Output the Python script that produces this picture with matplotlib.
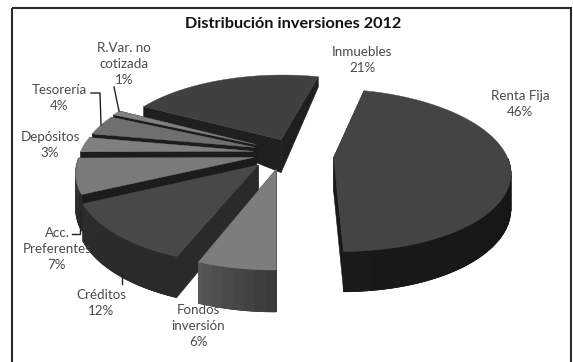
import numpy as np
import matplotlib
matplotlib.use('Agg')
import matplotlib.pyplot as plt
from matplotlib.colors import to_rgb
from matplotlib.patches import Rectangle

# Investment shares, clockwise from the first slice
categories = ['Renta Fija', 'Fondos\ninversión', 'Créditos', 'Acc.\nPreferentes',
              'Depósitos', 'Tesorería', 'R.Var. no\ncotizada', 'Inmuebles']
values = [46, 6, 12, 7, 3, 4, 1, 21]

# Slice styling, same order as categories
top_colors = ['#444444', '#7d7d7d', '#484848', '#7a7a7a', '#7f7f7f', '#6f6f6f', '#808080', '#404040']
wall_left = ['#1a1a1a', '#585858', '#2c2c2c', '#333333', '#222222', '#222222', '#222222', '#2b2b2b']
wall_right = ['#151515', '#3a3a3a', '#2a2a2a', '#2a2a2a', '#1e1e1e', '#1e1e1e', '#1e1e1e', '#2b2b2b']
cut_colors = ['#1a1a1a', '#333333', '#2a2a2a', '#1c1c1c', '#1c1c1c', '#1c1c1c', '#1c1c1c', '#1f1f1f']
explode = [0.27, 0.24, 0.27, 0.25, 0.25, 0.24, 0.24, 0.19]
nudge = [(-4, 2), (-7, -3), (0, -4), (5, 0), (5, 0), (3, 0), (2, 0), (3, 0)]
rim_drop = [1, 1, 1, 1, 1, 1, 1, 0.36]
label_xy = [(520, 104), (198, 326), (101, 303), (57, 249), (50, 145), (59, 98), (124, 64), (362, 60)]

# Pie geometry in pixels, with a simple perspective term
cx, cy = 291, 153
rx, ry = 173, 78.5
persp = 0.155
depth = 33.8
start_angle = 76.0


def project(u, v, drop=0.0, shift=(0, 0)):
    w = 1 + persp * v
    return cx + shift[0] + rx * u / w, cy + shift[1] - ry * v / w + drop * depth / w


def slice_points(a0, a1, e):
    mid = np.radians((a0 + a1) / 2)
    ox, oy = e * np.cos(mid), e * np.sin(mid)
    t = np.radians(np.linspace(a0, a1, max(int(abs(a1 - a0)) + 2, 4)))
    return ox, oy, t


fig = plt.figure(figsize=(5.73, 3.62), dpi=100)
ax = fig.add_axes([0, 0, 1, 1])
ax.set_xlim(0, 573)
ax.set_ylim(362, 0)
ax.axis('off')
plt.rcParams['font.family'] = ['Lato', 'DejaVu Sans']

ax.add_patch(Rectangle((12, 8), 559, 400, fill=False, ec='#2b2b2b', lw=1.5))

# Angles of each slice going clockwise
bounds = start_angle - np.cumsum([0] + values) * 3.6

# Back slices first, front slices on top
for rank, i in enumerate([7, 6, 5, 4, 3, 2, 1, 0]):
    z = 2 + rank * 0.1
    ox, oy, t = slice_points(bounds[i], bounds[i + 1], explode[i])
    us, vs = ox + np.cos(t), oy + np.sin(t)
    s = nudge[i]

    # cut faces from the apex out to both rim ends
    for u_end, v_end in [(us[0], vs[0]), (us[-1], vs[-1])]:
        p = [project(ox, oy, 0, s), project(u_end, v_end, 0, s),
             project(u_end, v_end, rim_drop[i], s), project(ox, oy, 1, s)]
        ax.fill(*zip(*p), color=cut_colors[i], lw=0.4, zorder=z)

    # outer wall, only the part facing the viewer
    front = np.where(np.sin(t) < 0)[0]
    if len(front) > 1:
        c0 = np.array(to_rgb(wall_left[i]))
        c1 = np.array(to_rgb(wall_right[i]))
        uf, vf = us[front], vs[front]
        top_edge = [project(a, b, 0, s) for a, b in zip(uf, vf)]
        low_edge = [project(a, b, 1, s) for a, b in zip(uf, vf)]
        ax.fill(*zip(*(top_edge + low_edge[::-1])), color=(c0 + c1) / 2, lw=0.4, zorder=z)
        # narrow bands for the slow shade drift along the rim
        step = 3
        for j in range(0, len(uf) - 1, step):
            e = min(j + step, len(uf) - 1)
            col = c1 + (c0 - c1) * j / max(len(uf) - 1, 1)
            ax.fill(*zip(*(top_edge[j:e + 1] + low_edge[j:e + 1][::-1])), color=col, lw=0.6, zorder=z)

    # top face
    xs, ys = project(us, vs, 0, s)
    ax_x, ax_y = project(ox, oy, 0, s)
    ax.fill(np.r_[ax_x, xs], np.r_[ax_y, ys], color=top_colors[i], lw=0.3, zorder=z)

# Leader lines
ax.plot([91, 100, 101], [93, 93, 125], color='#222222', lw=1.0, zorder=4)
ax.plot([114, 119], [87, 111], color='#222222', lw=1.0, zorder=4)
ax.plot([72, 80, 80], [234, 234, 211], color='#222222', lw=1.0, zorder=4)
ax.plot([122, 122], [274, 284], color='#222222', lw=1.0, zorder=4)

# Slice labels
for name, val, (lx, ly) in zip(categories, values, label_xy):
    ax.text(lx, ly, f'{name}\n{val}%', ha='center', va='center', fontsize=9.6,
            color='#4a4a4a', linespacing=1.36, zorder=5)

ax.text(293, 24, 'Distribución inversiones 2012', ha='center', va='center',
        fontsize=11.7, fontweight='bold', color='#111111', zorder=5)

plt.savefig('out.png', dpi=100)
plt.close()
